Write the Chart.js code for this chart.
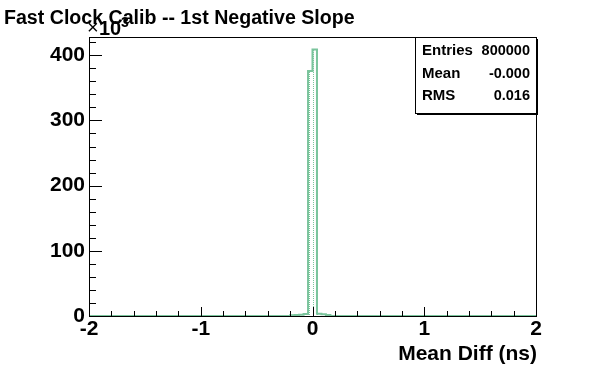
<!DOCTYPE html>
<html>
<head>
<meta charset="utf-8">
<script src="https://cdn.jsdelivr.net/npm/chart.js@4.4.1/dist/chart.umd.min.js"></script>
<style>
  html, body { margin: 0; padding: 0; background: #fff; }
  canvas { display: block; }
</style>
</head>
<body>
<canvas id="histChart" width="596" height="372"></canvas>
<script>
// histogram: 100 bins from -2 to 2 (bin width 0.04)
const xMin = -2;
const xMax = 2;
const binCounts = [
    0, 0, 0, 0, 0, 0, 0, 0, 0, 0,
    0, 0, 0, 0, 0, 0, 0, 0, 0, 0,
    0, 0, 0, 0, 0, 0, 0, 0, 0, 0,
    0, 0, 0, 0, 0, 0, 0, 0, 0, 0,
    0, 0, 0, 0, 0, 1000, 1500, 2000, 3000, 376000,
    409000, 3500, 2500, 1500, 0, 0, 0, 0, 0, 0,
    0, 0, 0, 0, 0, 0, 0, 0, 0, 0,
    0, 0, 0, 0, 0, 0, 0, 0, 0, 0,
    0, 0, 0, 0, 0, 0, 0, 0, 0, 0,
    0, 0, 0, 0, 0, 0, 0, 0, 0, 0
];
const xTickLabels = [-2, -1, 0, 1, 2];
const yTickLabels = [0, 100, 200, 300, 400];   // x10^3
const yMax = 428000;
const statNames = ['Entries', 'Mean', 'RMS'];
const statValues = ['800000', '-0.000', '0.016'];

const histColor = 'rgb(122,196,156)';
const FONT = '"Liberation Sans", Arial, Helvetica, sans-serif';

// step outline points: left edge of each bin + closing right edge
const binWidth = (xMax - xMin) / binCounts.length;
const points = binCounts.map((c, i) => ({ x: xMin + i * binWidth, y: c }));
points.push({ x: xMax, y: binCounts[binCounts.length - 1] });

// dotted fill like ROOT hatch
function makePattern() {
    const p = document.createElement('canvas');
    p.width = 4; p.height = 2;
    const pc = p.getContext('2d');
    pc.fillStyle = histColor;
    pc.fillRect(1, 0, 1, 1);
    return pc.createPattern(p, 'repeat');
}

const rootFrame = {
    id: 'rootFrame',
    afterDraw(chart) {
        const ctx = chart.ctx;
        const a = chart.chartArea;
        const xs = chart.scales.x, ys = chart.scales.y;
        ctx.save();
        ctx.strokeStyle = '#000';
        ctx.fillStyle = '#000';
        ctx.lineWidth = 1;

        // frame
        ctx.strokeRect(Math.round(a.left) + 0.5, Math.round(a.top) + 0.5,
            Math.round(a.right - a.left), Math.round(a.bottom - a.top));

        // x ticks (major every 1, minor every 0.2)
        ctx.beginPath();
        for (let k = 0; k <= 20; k++) {
            const v = xMin + k * 0.2;
            const px = Math.round(xs.getPixelForValue(v)) + 0.5;
            const len = (k % 5 === 0) ? 9 : 5;
            ctx.moveTo(px, a.bottom);
            ctx.lineTo(px, a.bottom - len);
        }
        // y ticks (major every 100k, minor every 20k)
        for (let v = 0; v <= yMax; v += 20000) {
            const py = Math.round(ys.getPixelForValue(v)) + 0.5;
            const len = (v % 100000 === 0) ? 13 : 7;
            ctx.moveTo(a.left, py);
            ctx.lineTo(a.left + len, py);
        }
        ctx.stroke();

        // tick labels
        ctx.font = 'bold 21px ' + FONT;
        ctx.textAlign = 'center';
        ctx.textBaseline = 'top';
        xTickLabels.forEach(v => {
            ctx.fillText(String(v), xs.getPixelForValue(v), a.bottom + 3);
        });
        ctx.textAlign = 'right';
        ctx.textBaseline = 'middle';
        yTickLabels.forEach(v => {
            ctx.fillText(String(v), a.left - 4, ys.getPixelForValue(v * 1000));
        });

        // exponent
        ctx.textAlign = 'left';
        ctx.textBaseline = 'alphabetic';
        ctx.font = '20px ' + FONT;
        ctx.fillText('\u00d7', a.left - 2, 34);
        ctx.font = 'bold 20px ' + FONT;
        ctx.fillText('10', a.left + 10, 35);
        ctx.font = 'bold 14px ' + FONT;
        ctx.fillText('3', a.left + 32, 27);

        // axis title
        ctx.font = 'bold 21px ' + FONT;
        ctx.textAlign = 'right';
        ctx.fillText('Mean Diff (ns)', a.right + 1, 360);

        // title
        ctx.font = 'bold 19.6px ' + FONT;
        ctx.textAlign = 'left';
        ctx.fillText('Fast Clock Calib -- 1st Negative Slope', 4, 24);

        // stats box
        const bx = 415, by = Math.round(a.top), bw = 121, bh = 76;
        ctx.fillStyle = '#fff';
        ctx.fillRect(bx, by, bw, bh);
        ctx.fillStyle = '#000';
        ctx.fillRect(bx + 2, by + bh, bw, 2);
        ctx.fillRect(bx + bw, by + 2, 2, bh);
        ctx.strokeRect(bx + 0.5, by + 0.5, bw, bh);
        statNames.forEach((n, i) => {
            const yy = by + 18 + i * 22.5;
            ctx.font = 'bold 15px ' + FONT;
            ctx.textAlign = 'left';
            ctx.fillText(n, bx + 7, yy);
            ctx.font = 'bold 14.5px ' + FONT;
            ctx.textAlign = 'right';
            ctx.fillText(statValues[i], bx + bw - 6, yy);
        });
        ctx.restore();
    }
};

new Chart(document.getElementById('histChart').getContext('2d'), {
    type: 'line',
    data: {
        datasets: [{
            data: points,
            stepped: true,
            borderColor: histColor,
            borderWidth: 2,
            backgroundColor: makePattern(),
            fill: 'origin',
            pointRadius: 0,
            tension: 0
        }]
    },
    options: {
        responsive: false,
        animation: false,
        layout: { padding: { left: 89, right: 60, top: 37, bottom: 56 } },
        plugins: { legend: { display: false }, tooltip: { enabled: false }, title: { display: false } },
        scales: {
            x: { type: 'linear', min: xMin, max: xMax, display: false },
            y: { type: 'linear', min: 0, max: yMax, display: false }
        }
    },
    plugins: [rootFrame]
});
</script>
</body>
</html>
